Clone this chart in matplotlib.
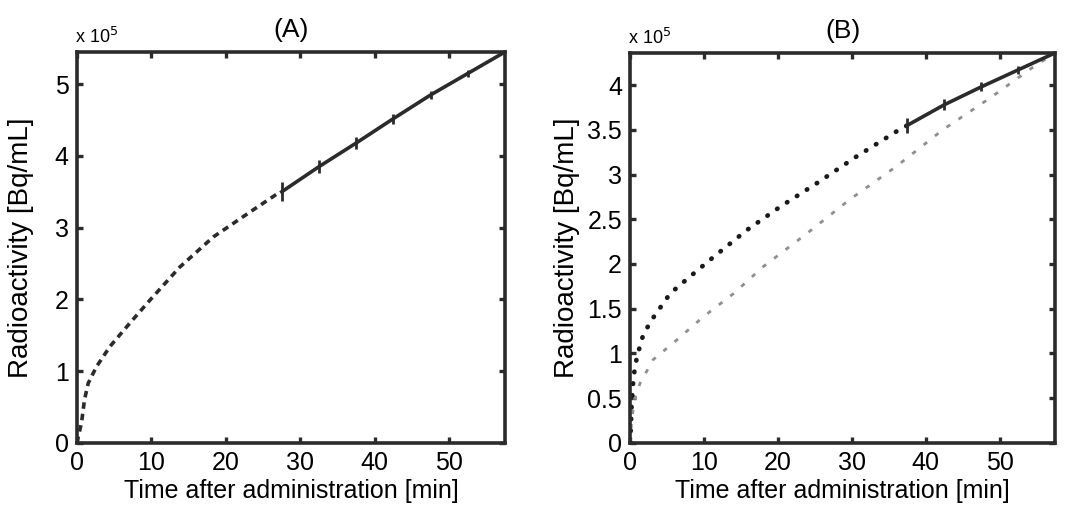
import matplotlib
matplotlib.use("Agg")
import matplotlib.pyplot as plt

plt.rcParams['font.family'] = ['Liberation Sans', 'DejaVu Sans']

# values in units of 1e5 Bq/mL, time in minutes
# panel A: fitted early curve (dashed) and measured late part (solid + error bars)
a_curve_t = [0, 0.2, 0.6, 1.0, 1.5, 2.6, 4.4, 7.1, 9.8, 13.8, 18.3, 23.7, 27.3]
a_curve_y = [0, 0.10, 0.28, 0.60, 0.83, 1.06, 1.34, 1.67, 1.99, 2.45, 2.87, 3.25, 3.50]
a_meas_t = [27.5, 32.5, 37.5, 42.5, 47.5, 52.5, 57.5]
a_meas_y = [3.50, 3.85, 4.18, 4.52, 4.85, 5.15, 5.45]
a_meas_err = [0.13, 0.09, 0.08, 0.07, 0.06, 0.05, 0.0]

# panel B: fitted early curve (dotted), measured late part, and second curve (grey)
b_curve_t = [0, 0.2, 0.45, 0.9, 1.8, 3.2, 5.4, 8.1, 11.3, 15.8, 20.3, 25.2, 30.6, 36.0, 37.5]
b_curve_y = [0, 0.45, 0.74, 0.96, 1.22, 1.41, 1.67, 1.86, 2.08, 2.38, 2.64, 2.90, 3.20, 3.48, 3.55]
b_meas_t = [37.5, 42.5, 47.5, 52.5, 57.5]
b_meas_y = [3.55, 3.78, 3.98, 4.17, 4.36]
b_meas_err = [0.08, 0.06, 0.05, 0.04, 0.0]
b_grey_t = [0, 0.2, 0.6, 1.35, 3.1, 6.3, 9.9, 14.0, 18.0, 23.9, 29.7, 36.0, 42.3, 48.6, 54.5, 57.5]
b_grey_y = [0, 0.25, 0.50, 0.67, 0.93, 1.15, 1.41, 1.67, 1.97, 2.34, 2.72, 3.09, 3.50, 3.85, 4.20, 4.36]

x_ticks = [0, 10, 20, 30, 40, 50]
a_yticks = [0, 1, 2, 3, 4, 5]
b_yticks = [0, 0.5, 1, 1.5, 2, 2.5, 3, 3.5, 4]

fig = plt.figure(figsize=(10.7, 5.09), dpi=100)
ax_a = fig.add_axes([0.072, 0.130, 0.400, 0.768])
ax_b = fig.add_axes([0.589, 0.130, 0.397, 0.766])

dark = '#2b2b2b'

# panel A
ax_a.plot(a_curve_t, a_curve_y, color=dark, lw=2.6, linestyle=(0, (1.8, 1.4)))
ax_a.errorbar(a_meas_t, a_meas_y, yerr=a_meas_err, color=dark, lw=2.6,
              elinewidth=2.0, capsize=0)

# panel B
ax_b.plot(b_grey_t, b_grey_y, color='#8f8f8f', lw=2.0, linestyle=(0, (1.6, 3.6)))
ax_b.plot(b_curve_t, b_curve_y, color='#1a1a1a', lw=3.4, linestyle=(0, (0.1, 2.4)),
          dash_capstyle='round')
ax_b.errorbar(b_meas_t, b_meas_y, yerr=b_meas_err, color=dark, lw=2.6,
              elinewidth=2.0, capsize=0)

for ax, title, ylim, yticks, ylab_x in [(ax_a, '(A)', 5.45, a_yticks, -0.100),
                                        (ax_b, '(B)', 4.36, b_yticks, -0.118)]:
    ax.set_xlim(0, 57.5)
    ax.set_ylim(0, ylim)
    ax.set_xticks(x_ticks)
    ax.set_yticks(yticks)
    ax.set_yticklabels([('%g' % v) for v in yticks])
    ax.tick_params(direction='in', top=True, right=True, length=4, width=2.4,
                   labelsize=18, color=dark)
    ax.tick_params(axis='x', pad=6)
    ax.tick_params(axis='y', pad=6)
    for s in ax.spines.values():
        s.set_linewidth(2.6)
        s.set_color(dark)
    ax.set_title(title, fontsize=19, pad=11)
    ax.set_xlabel('Time after administration [min]', fontsize=18, labelpad=3)
    ax.set_ylabel('Radioactivity [Bq/mL]', fontsize=20)
    ax.yaxis.set_label_coords(ylab_x, 0.5)
    ax.text(-0.005, 1.012, r'x 10$^5$', transform=ax.transAxes, fontsize=13,
            ha='left', va='bottom')

fig.savefig('out.png', dpi=100)
